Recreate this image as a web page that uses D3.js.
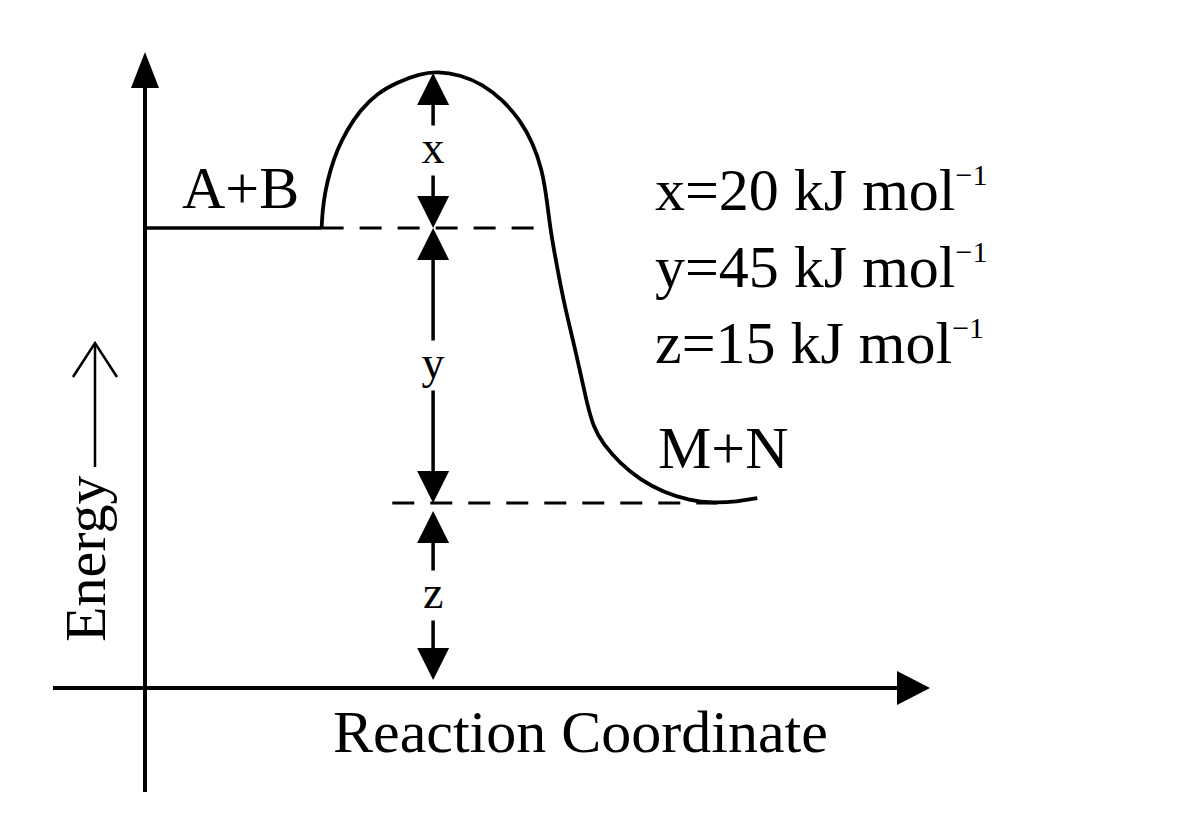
<!DOCTYPE html>
<meta charset="utf-8">
<script src="https://d3js.org/d3.v7.min.js"></script>
<style>
  body { margin: 0; background: #fff; }
  text { font-family: "Liberation Serif", "Times New Roman", serif; fill: #000; }
</style>
<div id="my_dataviz"></div>

<script>
    // energy gaps (kJ/mol)
    const gapNames = ["z", "y", "x"];
    const gapFrom = [0, 15, 60];
    const gapTo = [15, 60, 80];
    const gapText = ["x=20 kJ mol", "y=45 kJ mol", "z=15 kJ mol"];

    // reaction profile (reaction coordinate, energy)
    const profile = [
        [2.25, 60], [2.26, 62], [2.29, 64.5], [2.36, 67.5], [2.45, 70.1], [2.57, 72.6],
        [2.74, 75.2], [2.96, 77.4], [3.21, 78.8], [3.5, 79.9], [3.72, 80.2],
        [4.01, 79.8], [4.31, 78.5], [4.56, 76.5], [4.78, 73.9], [4.94, 71],
        [5.06, 67.5], [5.12, 63.6], [5.17, 59.2], [5.25, 53.6], [5.33, 48.2],
        [5.43, 42.8], [5.53, 37.3], [5.62, 31.9], [5.71, 27.4], [5.84, 24.6],
        [6.05, 21.5], [6.31, 18.8], [6.6, 16.8], [6.94, 15.4], [7.24, 15],
        [7.54, 15.2], [7.8, 15.8]
    ];
    const reactantSolid = [0, 2.25];
    const reactantDash = [2.25, 4.98];
    const productDash = [3.15, 7.29];
    const arrowAt = 3.67;

    const width = 1193, height = 838;

    const svg = d3.select("#my_dataviz")
        .append("svg")
        .attr("width", width)
        .attr("height", height);

    // diagram is not to scale, so the energy scale is piecewise
    const x = d3.scaleLinear().domain([0, 10]).range([145, 930]);
    const y = d3.scaleLinear().domain([0, 15, 60, 80]).range([688, 503, 228, 73]);

    const x0 = x(0), y0 = y(0);

    // axes (plain arrows, no ticks)
    svg.append("line")
        .attr("x1", x0).attr("y1", y0 + 104)
        .attr("x2", x0).attr("y2", y(80) + 10)
        .attr("stroke", "#000").attr("stroke-width", 4);
    svg.append("path")
        .attr("d", `M${x0},${y(80) - 21} L${x0 - 14},${y(80) + 15} L${x0 + 14},${y(80) + 15} Z`)
        .attr("fill", "#000");

    svg.append("line")
        .attr("x1", x0 - 92).attr("y1", y0)
        .attr("x2", x(10) - 20).attr("y2", y0)
        .attr("stroke", "#000").attr("stroke-width", 4);
    svg.append("path")
        .attr("d", `M${x(10)},${y0} L${x(10) - 33},${y0 - 17} L${x(10) - 33},${y0 + 17} Z`)
        .attr("fill", "#000");

    // levels
    svg.append("line")
        .attr("x1", x(reactantSolid[0])).attr("x2", x(reactantSolid[1]))
        .attr("y1", y(60)).attr("y2", y(60))
        .attr("stroke", "#000").attr("stroke-width", 3.5);

    svg.selectAll(".dash")
        .data([[reactantDash, 60], [productDash, 15]])
        .join("line")
        .attr("x1", d => x(d[0][0])).attr("x2", d => x(d[0][1]))
        .attr("y1", d => y(d[1])).attr("y2", d => y(d[1]))
        .attr("stroke", "#000").attr("stroke-width", 3)
        .attr("stroke-dasharray", "22,16");

    // profile curve
    svg.append("path")
        .datum(profile)
        .attr("fill", "none")
        .attr("stroke", "#000")
        .attr("stroke-width", 3.8)
        .attr("d", d3.line()
            .x(d => x(d[0]))
            .y(d => y(d[1]))
            .curve(d3.curveBasis));

    // double arrows with label in the middle
    const ax = x(arrowAt), headLen = 32, headW = 16, gap = 25;
    gapNames.forEach(function(name, i) {
        const inset = gapFrom[i] === 0 ? 8 : 0;
        const yb = y(gapFrom[i]) - inset;
        const yt = y(gapTo[i]) + inset;
        const mid = (yb + yt) / 2;
        const g = svg.append("g");
        g.append("line")
            .attr("x1", ax).attr("x2", ax)
            .attr("y1", yt + headLen - 2).attr("y2", mid - gap)
            .attr("stroke", "#000").attr("stroke-width", 3.5);
        g.append("line")
            .attr("x1", ax).attr("x2", ax)
            .attr("y1", mid + gap).attr("y2", yb - headLen + 2)
            .attr("stroke", "#000").attr("stroke-width", 3.5);
        g.append("path")
            .attr("d", `M${ax},${yt} L${ax - headW},${yt + headLen} L${ax + headW},${yt + headLen} Z`)
            .attr("fill", "#000");
        g.append("path")
            .attr("d", `M${ax},${yb} L${ax - headW},${yb - headLen} L${ax + headW},${yb - headLen} Z`)
            .attr("fill", "#000");
        g.append("text")
            .attr("x", ax).attr("y", mid + 12)
            .attr("text-anchor", "middle")
            .attr("font-size", 46)
            .text(name);
    });

    // species labels
    svg.append("text")
        .attr("x", 182).attr("y", y(60) - 20)
        .attr("font-size", 60)
        .text("A+B");
    svg.append("text")
        .attr("x", 658).attr("y", y(15) - 35)
        .attr("font-size", 60)
        .text("M+N");

    // values
    svg.selectAll(".val")
        .data(gapText)
        .join("text")
        .attr("x", 655)
        .attr("y", (d, i) => 210 + i * 76.5)
        .attr("font-size", 60)
        .each(function(d) {
            const t = d3.select(this);
            t.append("tspan").text(d);
            t.append("tspan").attr("font-size", 30).attr("dy", -25).text("\u22121");
        });

    // axis titles
    svg.append("text")
        .attr("x", 333).attr("y", 752)
        .attr("font-size", 60)
        .text("Reaction Coordinate");

    svg.append("text")
        .attr("transform", "translate(105,642) rotate(-90)")
        .attr("font-size", 58)
        .text("Energy");
    svg.append("line")
        .attr("x1", 95).attr("x2", 95)
        .attr("y1", 467).attr("y2", 344)
        .attr("stroke", "#000").attr("stroke-width", 2.5);
    svg.append("path")
        .attr("d", "M73,377 L95,343 L117,377")
        .attr("fill", "none")
        .attr("stroke", "#000").attr("stroke-width", 2.5);
</script>
